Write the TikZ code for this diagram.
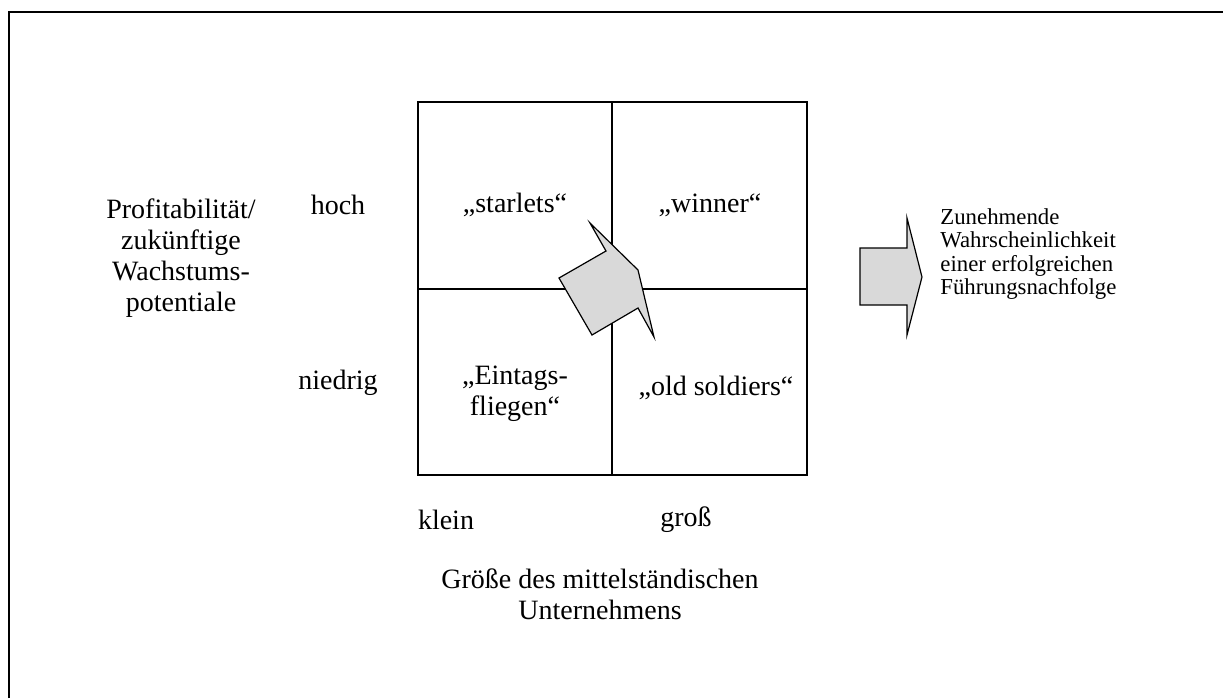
\documentclass[tikz,border=0pt]{standalone}
\usepackage{fontspec}
\setmainfont{Liberation Serif}
\usepackage{xcolor}
\usepackage{tikz}
\definecolor{arrowgray}{RGB}{217,217,217}

\begin{document}
\begin{tikzpicture}[x=0.5pt, y=-0.5pt,
    lbl/.style={font=\fontsize{14}{15.5}\selectfont, align=center, inner sep=0pt},
    note/.style={font=\fontsize{11.4}{11.6}\selectfont, align=left, inner sep=0pt},
    blockarrow/.style={draw, fill=arrowgray, line width=0.6pt, line join=miter}]
  \useasboundingbox (0,0) rectangle (1223,698);

  % outer frame
  \draw[line width=1.3pt] (9,698) -- (9,12) -- (1223,12);

  % portfolio matrix
  \coordinate (nw) at (418,102);
  \coordinate (se) at (807,475);
  \coordinate (mid) at (612,289);
  \draw[line width=0.8pt] (nw) rectangle (se);
  \draw[line width=0.8pt] (mid |- nw) -- (mid |- se);
  \draw[line width=0.8pt] (mid -| nw) -- (mid -| se);

  % quadrant labels
  \node[lbl] (starlets) at (515,205) {„starlets“};
  \node[lbl] (winner) at (710,205) {„winner“};
  \node[lbl] (eintags) at (515,394) {„Eintags-\\fliegen“};
  \node[lbl] (soldiers) at (716,388) {„old soldiers“};

  % axis labels
  \node[lbl] (hoch) at (338,205) {hoch};
  \node[lbl] (niedrig) at (338,383) {niedrig};
  \node[lbl] (klein) at (446,520) {klein};
  \node[lbl] (gross) at (686,520) {groß};
  \node[lbl] (yaxis) at (181,258)
    {Profitabilität/\\zukünftige\\Wachstums-\\potentiale};
  \node[lbl] (xaxis) at (600,594)
    {Größe des mittelständischen\\Unternehmens};

  % central arrow
  \draw[blockarrow] (590,223) -- (638,270) -- (654,337) -- (638,308)
    -- (592,335) -- (559,278) -- (606,251) -- cycle;

  % right arrow and note
  \draw[blockarrow] (860,248) -- (907,248) -- (907,218) -- (922,277)
    -- (907,335) -- (907,305) -- (860,305) -- cycle;
  \node[note, anchor=west] (succession) at (940,254)
    {Zunehmende\\Wahrscheinlichkeit\\einer erfolgreichen\\Führungsnachfolge};
\end{tikzpicture}
\end{document}
